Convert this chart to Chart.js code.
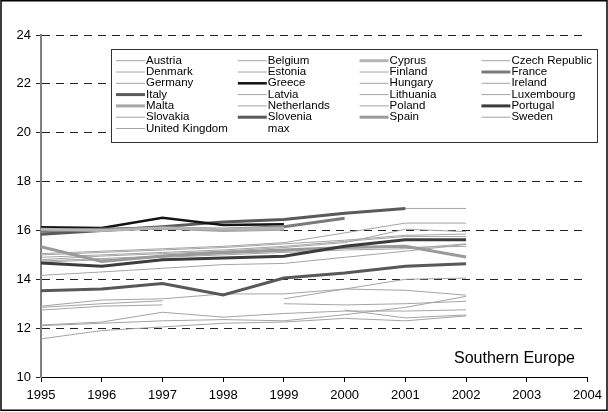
<!DOCTYPE html>
<html>
<head>
<meta charset="utf-8">
<title>Southern Europe</title>
<style>
  html, body { margin: 0; padding: 0; background: #fff; }
  #wrap { width: 608px; height: 412px; }
</style>
</head>
<body>
<div id="wrap"><canvas id="myChart" width="608" height="412"></canvas></div>
<script src="https://cdn.jsdelivr.net/npm/chart.js@4.4.0/dist/chart.umd.min.js"></script>
<script>
// years on the x axis (data only goes to 2002)
const years = ['1995', '1996', '1997', '1998', '1999', '2000', '2001', '2002', '2003', '2004'];
const yMin = 10, yMax = 24, yStep = 2;
const panelTitle = 'Southern Europe';

// values, 1995..2002 (null = no data)
const austria     = [15.0, 15.1, 15.2, 15.3, 15.45, 15.6, 15.8, 15.85];
const belgium     = [14.9, 15.0, 15.1, 15.2, 15.35, 15.55, 15.75, 15.75];
const cyprus      = [16.05, 16.0, 16.1, 16.05, 16.1, null, null, null];
const czech       = [12.9, 13.15, 13.2, 13.4, 13.4, 13.6, 13.55, 13.35];
const denmark     = [14.8, 14.95, 15.05, 15.15, 15.3, 15.5, 16.05, 15.95];
const estonia     = [null, null, null, null, 13.2, 13.6, 14.0, 14.05];
const finland     = [14.7, 14.8, 14.9, 15.0, 15.1, 15.2, 15.25, 15.45];
const france      = [16.0, 16.05, 16.1, 16.05, 16.15, 16.5, null, null];
const germany     = [14.75, 14.85, 14.95, 15.05, 15.15, 15.3, 15.3, 15.35];
const greece      = [16.13, 16.1, 16.52, 16.22, 16.25, null, null, null];
const hungary     = [12.85, 13.0, 13.12, null, null, null, null, null];
const ireland     = [null, null, null, null, null, null, 16.9, 16.9];
const italy       = [15.84, 16.0, 16.15, 16.35, 16.45, 16.7, 16.9, null];
const latvia      = [null, null, null, null, 13.0, 12.95, 13.0, 13.1];
const lithuania   = [null, null, null, null, null, 12.74, 12.42, 12.54];
const luxembourg  = [14.16, 14.3, 14.45, 14.6, 14.65, 14.9, 15.15, 15.43];
const malta       = [15.95, 16.05, 16.1, 16.0, 16.05, null, null, null];
const netherlands = [15.05, 15.15, 15.25, 15.35, 15.5, 15.9, 16.3, 16.3];
const poland      = [12.74, 12.9, 12.95, null, null, null, null, null];
const portugal    = [14.67, 14.53, 14.8, 14.87, 14.94, 15.35, 15.62, 15.62];
const slovakia    = [12.13, 12.25, 12.65, 12.45, 12.6, 12.7, 12.7, 12.75];
const slovenia    = [13.53, 13.6, 13.83, 13.36, 14.05, 14.26, 14.53, 14.64];
const spain       = [15.33, 14.73, 14.95, 15.1, 15.2, 15.3, 15.35, 14.91];
const sweden      = [12.1, 12.2, 12.3, 12.35, 12.3, 12.55, 12.85, 13.3];
const uk          = [11.56, 11.9, 12.05, 12.2, 12.25, 12.4, 12.3, 12.5];

const countries = ['Austria', 'Belgium', 'Cyprus', 'Czech Republic', 'Denmark', 'Estonia',
  'Finland', 'France', 'Germany', 'Greece', 'Hungary', 'Ireland', 'Italy', 'Latvia',
  'Lithuania', 'Luxembourg', 'Malta', 'Netherlands', 'Poland', 'Portugal', 'Slovakia',
  'Slovenia', 'Spain', 'Sweden', 'United Kingdom'];
const values = [austria, belgium, cyprus, czech, denmark, estonia, finland, france, germany,
  greece, hungary, ireland, italy, latvia, lithuania, luxembourg, malta, netherlands, poland,
  portugal, slovakia, slovenia, spain, sweden, uk];
const extraLegend = ['max'];  // legend entry without a line

// styles
const FONT = '"Liberation Sans", Arial, sans-serif';
const THIN = { color: '#a4a4a4', width: 1 };
const thick = {
  'Cyprus':   { color: '#b4b4b4', width: 3 },
  'France':   { color: '#7a7a7a', width: 3 },
  'Greece':   { color: '#141414', width: 2.5 },
  'Italy':    { color: '#5a5a5a', width: 3 },
  'Malta':    { color: '#a6a6a6', width: 3 },
  'Portugal': { color: '#3c3c3c', width: 3 },
  'Slovenia': { color: '#585858', width: 3 },
  'Spain':    { color: '#9a9a9a', width: 3 },
};

const datasets = countries.map((name, i) => {
  const st = thick[name] || THIN;
  return {
    label: name,
    data: values[i],
    borderColor: st.color,
    backgroundColor: st.color,
    borderWidth: st.width,
    pointRadius: 0,
    tension: 0,
    spanGaps: false,
    order: thick[name] ? 0 : 1,
  };
});

// grid-style legend box + caption + outer frame
const decor = {
  id: 'decor',
  afterDraw(chart) {
    const ctx = chart.ctx;
    ctx.save();
    // legend box
    const bx = 111.5, by = 49.5, bw = 486, bh = 93;
    ctx.fillStyle = '#fff';
    ctx.fillRect(bx, by, bw, bh);
    ctx.strokeStyle = '#333';
    ctx.lineWidth = 1;
    ctx.strokeRect(bx, by, bw, bh);
    ctx.font = '11.5px ' + FONT;
    ctx.textBaseline = 'middle';
    ctx.fillStyle = '#000';
    const items = chart.data.datasets.map(d => d).concat(extraLegend.map(l => ({ label: l })));
    items.forEach((d, i) => {
      const col = i % 4, row = Math.floor(i / 4);
      const x = 116 + col * 121.8, y = 60.7 + row * 11.3;
      if (d.borderWidth) {
        ctx.beginPath();
        ctx.strokeStyle = d.borderColor;
        ctx.lineWidth = d.borderWidth;
        ctx.moveTo(x, y);
        ctx.lineTo(x + 29, y);
        ctx.stroke();
      }
      ctx.fillText(d.label, x + 30, y);
    });
    // caption
    ctx.font = '16px ' + FONT;
    ctx.textAlign = 'right';
    ctx.textBaseline = 'alphabetic';
    ctx.fillText(panelTitle, 575, 363);
    // outer frame
    ctx.strokeStyle = '#000';
    ctx.lineWidth = 1.5;
    ctx.strokeRect(1, 0.75, 606, 409.5);
    ctx.restore();
  }
};

const config = {
  type: 'line',
  data: { labels: years, datasets },
  options: {
    responsive: false,
    animation: false,
    devicePixelRatio: 1,
    layout: { padding: { left: 0, top: 35, right: 14, bottom: 0 } },
    plugins: { legend: { display: false }, tooltip: { enabled: false } },
    scales: {
      x: {
        type: 'category',
        offset: false,
        grid: { drawOnChartArea: false, drawTicks: true, tickLength: 5, color: '#000' },
        border: { color: '#000', width: 1 },
        ticks: { color: '#000', font: { family: FONT, size: 13 }, padding: 6, maxRotation: 0, autoSkip: false },
        afterFit(s) { s.height = 35; }
      },
      y: {
        min: yMin,
        max: yMax,
        grid: { color: '#222', lineWidth: 1, tickLength: 5, drawTicks: true },
        border: { color: '#808080', width: 2, dash: [8, 6] },
        ticks: { stepSize: yStep, color: '#000', font: { family: FONT, size: 13 }, padding: 5 },
        afterFit(s) { s.width = 41; }
      }
    }
  },
  plugins: [decor]
};

const ctx = document.getElementById('myChart');
new Chart(ctx, config);
</script>
</body>
</html>
